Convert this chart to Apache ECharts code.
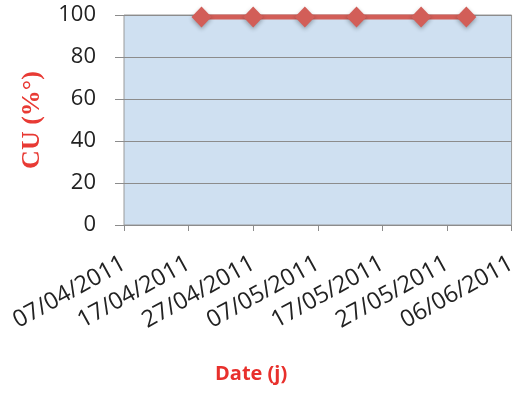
<!DOCTYPE html>
<html>
<head>
<meta charset="utf-8">
<script src="https://cdn.jsdelivr.net/npm/echarts@6/dist/echarts.min.js"></script>
<style>
  html, body { margin: 0; padding: 0; background: #ffffff; }
  #chart { width: 520px; height: 394px; }
</style>
</head>
<body>
<div id="chart"></div>
<script>
// Measurement dates and CU values
const startDate = '07/04/2011';
const endDate = '06/06/2011';
const dates = ['19/04/2011', '27/04/2011', '05/05/2011', '13/05/2011', '23/05/2011', '30/05/2011'];
const cuValues = [99, 99, 99, 99, 99, 99];
const yTicks = [0, 20, 40, 60, 80, 100];

const DAY = 86400000;
function parseDMY(s) {
  const [d, m, y] = s.split('/').map(Number);
  return Date.UTC(y, m - 1, d);
}
function formatDMY(ms) {
  const d = new Date(ms);
  const p = n => String(n).padStart(2, '0');
  return p(d.getUTCDate()) + '/' + p(d.getUTCMonth() + 1) + '/' + d.getUTCFullYear();
}
const t0 = parseDMY(startDate);
const span = Math.round((parseDMY(endDate) - t0) / DAY);
// x is expressed in days since the first axis date
const points = dates.map((s, i) => [Math.round((parseDMY(s) - t0) / DAY), cuValues[i]]);

const chart = echarts.init(document.getElementById('chart'), null, { renderer: 'canvas' });
chart.setOption({
  animation: false,
  grid: {
    left: 124, right: 8, top: 15, bottom: 169,
    show: true,
    backgroundColor: '#cfe0f1',
    borderColor: '#9a9a9a',
    borderWidth: 1
  },
  xAxis: {
    type: 'value',
    min: 0,
    max: span,
    interval: 10,
    axisLine: { show: true, lineStyle: { color: '#8c8c8c', width: 1 } },
    axisTick: { show: true, length: 6, lineStyle: { color: '#8c8c8c' } },
    splitLine: { show: false },
    axisLabel: {
      rotate: 29,
      margin: 37,
      fontFamily: 'Open Sans',
      fontSize: 23.5,
      color: '#222',
      formatter: v => formatDMY(t0 + v * DAY)
    }
  },
  yAxis: {
    type: 'value',
    min: yTicks[0],
    max: yTicks[yTicks.length - 1],
    interval: 20,
    name: 'CU (%°)',
    nameLocation: 'middle',
    nameGap: 79,
    nameRotate: 90,
    nameTextStyle: {
      fontFamily: 'Liberation Serif',
      fontWeight: 'bold',
      fontSize: 26,
      color: '#e83a34'
    },
    axisLine: { show: false },
    axisTick: { show: true, length: 9, lineStyle: { color: '#8c8c8c' } },
    splitLine: { show: true, lineStyle: { color: '#8c8c8c', width: 1 } },
    axisLabel: {
      margin: 28,
      fontFamily: 'Open Sans',
      fontSize: 22,
      color: '#222'
    }
  },
  graphic: [{
    type: 'text',
    left: 215,
    top: 364,
    style: {
      text: 'Date (j)',
      fontFamily: 'Open Sans',
      fontWeight: 'bold',
      fontSize: 20,
      fill: '#e8302c'
    }
  }],
  series: [{
    type: 'line',
    data: points,
    symbol: 'diamond',
    symbolSize: [20, 21],
    lineStyle: { color: '#d25e58', width: 5 },
    itemStyle: {
      color: '#d25e58',
      shadowColor: 'rgba(0,0,0,0.3)',
      shadowBlur: 4,
      shadowOffsetY: 2
    }
  }]
});
</script>
</body>
</html>
